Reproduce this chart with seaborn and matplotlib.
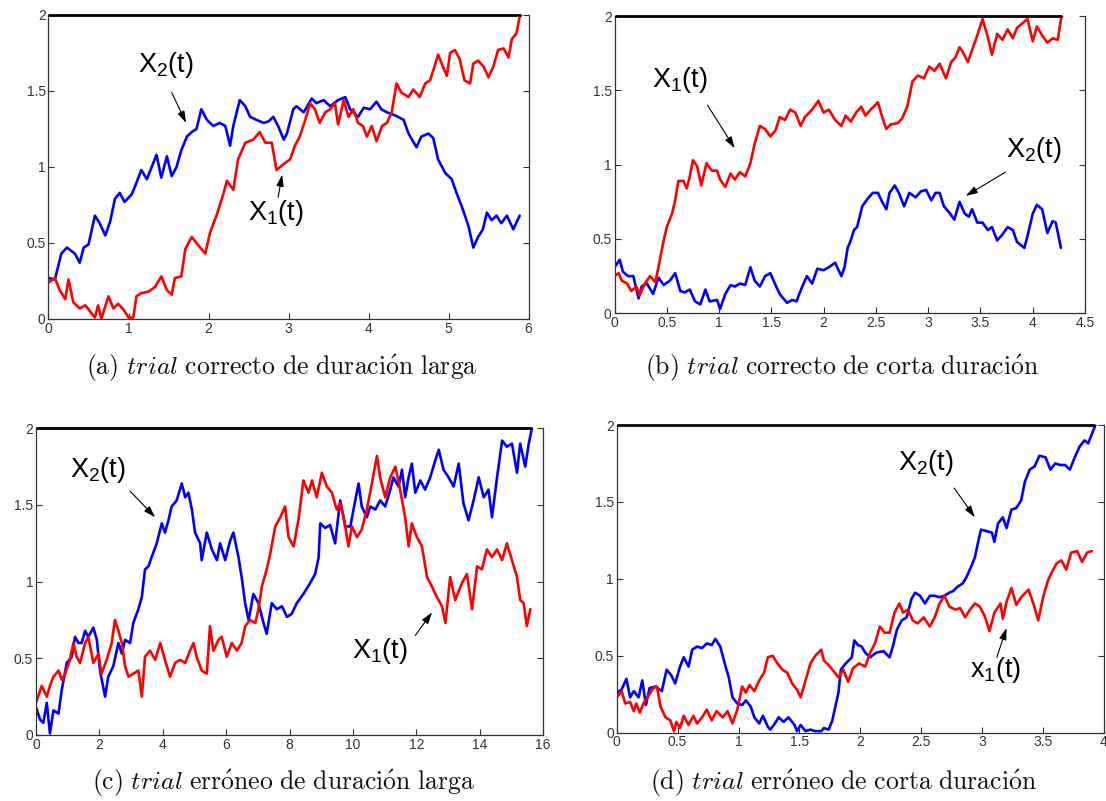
import matplotlib
matplotlib.use("Agg")
import matplotlib.pyplot as plt
import numpy as np
import pandas as pd
import seaborn as sns

# ---------------------------------------------------------------------------
# Decision-variable traces x1(t) (red) and x2(t) (blue) for four trials.
# ---------------------------------------------------------------------------

# (a) correct trial, long duration
a_t1 = [0.0, 0.08, 0.14, 0.21, 0.25, 0.31, 0.39, 0.46, 0.52, 0.58, 0.62, 0.66, 0.75, 0.81, 0.87, 0.94,
        1.0, 1.06, 1.10, 1.16, 1.25, 1.33, 1.41, 1.48, 1.54, 1.58, 1.66, 1.71, 1.79, 1.85, 1.96, 2.02,
        2.10, 2.19, 2.23, 2.31, 2.37, 2.46, 2.56, 2.64, 2.71, 2.79, 2.85, 2.94, 3.02, 3.08, 3.14, 3.21,
        3.27, 3.33, 3.39, 3.46, 3.52, 3.58, 3.62, 3.69, 3.75, 3.81, 3.87, 3.93, 3.98, 4.04, 4.10, 4.17,
        4.23, 4.29, 4.35, 4.41, 4.50, 4.56, 4.64, 4.71, 4.77, 4.83, 4.87, 4.93, 4.98, 5.02, 5.08, 5.14,
        5.20, 5.27, 5.31, 5.37, 5.44, 5.50, 5.56, 5.62, 5.69, 5.75, 5.79, 5.85, 5.89, 5.91]
a_x1 = [0.24, 0.27, 0.19, 0.13, 0.26, 0.11, 0.07, 0.09, 0.05, 0.01, 0.09, 0.0, 0.15, 0.07, 0.10, 0.06,
        0.01, 0.01, 0.15, 0.17, 0.18, 0.21, 0.28, 0.19, 0.16, 0.27, 0.28, 0.46, 0.54, 0.50, 0.43, 0.57,
        0.68, 0.83, 0.91, 0.85, 1.05, 1.16, 1.18, 1.23, 1.16, 1.16, 0.98, 1.02, 1.05, 1.14, 1.20, 1.31,
        1.42, 1.38, 1.29, 1.36, 1.38, 1.42, 1.28, 1.44, 1.33, 1.38, 1.29, 1.27, 1.20, 1.27, 1.17, 1.27,
        1.29, 1.36, 1.55, 1.49, 1.46, 1.51, 1.46, 1.55, 1.57, 1.67, 1.74, 1.66, 1.60, 1.75, 1.77, 1.71,
        1.57, 1.55, 1.68, 1.70, 1.66, 1.59, 1.66, 1.77, 1.78, 1.72, 1.84, 1.88, 1.99, 2.0]
a_t2 = [0.0, 0.08, 0.16, 0.23, 0.33, 0.39, 0.44, 0.50, 0.58, 0.64, 0.71, 0.77, 0.83, 0.89, 0.95, 1.04,
        1.08, 1.16, 1.23, 1.29, 1.35, 1.41, 1.48, 1.54, 1.60, 1.66, 1.73, 1.79, 1.85, 1.91, 1.98, 2.06,
        2.14, 2.21, 2.27, 2.31, 2.39, 2.46, 2.52, 2.60, 2.69, 2.75, 2.81, 2.87, 2.94, 2.98, 3.06, 3.10,
        3.19, 3.29, 3.35, 3.44, 3.52, 3.62, 3.71, 3.77, 3.87, 3.94, 4.02, 4.10, 4.16, 4.23, 4.33, 4.44,
        4.50, 4.60, 4.66, 4.75, 4.81, 4.87, 4.96, 5.04, 5.10, 5.18, 5.25, 5.31, 5.37, 5.43, 5.48, 5.54,
        5.60, 5.66, 5.73, 5.81, 5.89]
a_x2 = [0.27, 0.26, 0.43, 0.47, 0.43, 0.37, 0.47, 0.49, 0.68, 0.63, 0.55, 0.64, 0.79, 0.83, 0.77, 0.82,
        0.87, 0.98, 0.92, 1.0, 1.08, 0.93, 1.07, 0.94, 1.0, 1.11, 1.20, 1.23, 1.25, 1.38, 1.31, 1.27,
        1.29, 1.27, 1.14, 1.27, 1.44, 1.40, 1.33, 1.31, 1.29, 1.30, 1.33, 1.27, 1.18, 1.22, 1.38, 1.40,
        1.36, 1.45, 1.42, 1.44, 1.40, 1.44, 1.46, 1.38, 1.33, 1.39, 1.38, 1.43, 1.38, 1.36, 1.34, 1.31,
        1.22, 1.13, 1.20, 1.22, 1.19, 1.05, 0.96, 0.92, 0.83, 0.72, 0.61, 0.47, 0.54, 0.59, 0.70, 0.65,
        0.68, 0.63, 0.68, 0.59, 0.68]

# (b) correct trial, short duration
b_t1 = [0.0, 0.04, 0.07, 0.12, 0.16, 0.21, 0.24, 0.29, 0.34, 0.39, 0.42, 0.47, 0.50, 0.55, 0.58, 0.61,
        0.66, 0.69, 0.72, 0.75, 0.79, 0.83, 0.88, 0.93, 0.98, 1.01, 1.06, 1.11, 1.15, 1.20, 1.25, 1.30,
        1.34, 1.39, 1.44, 1.49, 1.54, 1.58, 1.63, 1.68, 1.73, 1.78, 1.82, 1.89, 1.95, 2.0, 2.05, 2.11,
        2.17, 2.21, 2.26, 2.31, 2.36, 2.40, 2.45, 2.52, 2.56, 2.60, 2.64, 2.71, 2.75, 2.80, 2.85, 2.90,
        2.96, 3.01, 3.06, 3.11, 3.17, 3.22, 3.26, 3.30, 3.33, 3.38, 3.42, 3.47, 3.52, 3.57, 3.61, 3.66,
        3.71, 3.76, 3.81, 3.85, 3.90, 3.95, 4.0, 4.04, 4.09, 4.14, 4.19, 4.24, 4.27, 4.28]
b_x1 = [0.25, 0.27, 0.22, 0.20, 0.15, 0.18, 0.12, 0.20, 0.25, 0.21, 0.31, 0.49, 0.58, 0.67, 0.76, 0.89,
        0.89, 0.84, 0.92, 1.03, 0.99, 0.86, 1.01, 0.96, 0.96, 0.90, 0.85, 0.94, 0.90, 0.95, 0.92, 1.01,
        1.14, 1.26, 1.24, 1.19, 1.23, 1.32, 1.30, 1.37, 1.35, 1.26, 1.32, 1.37, 1.43, 1.35, 1.37, 1.30,
        1.26, 1.33, 1.29, 1.35, 1.39, 1.33, 1.37, 1.42, 1.32, 1.24, 1.27, 1.28, 1.31, 1.39, 1.56, 1.60,
        1.58, 1.66, 1.63, 1.68, 1.58, 1.69, 1.72, 1.79, 1.76, 1.69, 1.77, 1.87, 1.98, 1.86, 1.74, 1.88,
        1.84, 1.91, 1.85, 1.92, 1.95, 1.98, 1.83, 1.93, 1.87, 1.82, 1.85, 1.84, 1.98, 2.0]
b_t2 = [0.0, 0.05, 0.08, 0.13, 0.18, 0.23, 0.26, 0.31, 0.37, 0.42, 0.47, 0.53, 0.58, 0.63, 0.67, 0.72,
        0.77, 0.82, 0.87, 0.91, 0.98, 1.01, 1.06, 1.11, 1.15, 1.20, 1.25, 1.30, 1.34, 1.39, 1.44, 1.49,
        1.54, 1.58, 1.65, 1.70, 1.74, 1.79, 1.84, 1.89, 1.94, 2.0, 2.05, 2.11, 2.17, 2.20, 2.23, 2.26,
        2.29, 2.32, 2.37, 2.42, 2.47, 2.52, 2.56, 2.60, 2.63, 2.68, 2.72, 2.77, 2.82, 2.88, 2.93, 2.98,
        3.03, 3.07, 3.11, 3.15, 3.20, 3.25, 3.30, 3.35, 3.39, 3.42, 3.47, 3.52, 3.57, 3.61, 3.66, 3.71,
        3.76, 3.81, 3.85, 3.92, 3.95, 4.0, 4.04, 4.09, 4.14, 4.19, 4.22, 4.27]
b_x2 = [0.31, 0.36, 0.28, 0.25, 0.25, 0.10, 0.18, 0.20, 0.13, 0.24, 0.19, 0.22, 0.27, 0.15, 0.14, 0.16,
        0.08, 0.06, 0.16, 0.08, 0.09, 0.03, 0.13, 0.19, 0.18, 0.20, 0.19, 0.31, 0.22, 0.18, 0.25, 0.27,
        0.19, 0.13, 0.07, 0.09, 0.08, 0.17, 0.25, 0.20, 0.30, 0.29, 0.31, 0.34, 0.25, 0.31, 0.44, 0.49,
        0.56, 0.58, 0.72, 0.77, 0.81, 0.81, 0.75, 0.70, 0.81, 0.86, 0.81, 0.72, 0.81, 0.78, 0.82, 0.83,
        0.76, 0.81, 0.81, 0.72, 0.68, 0.63, 0.75, 0.67, 0.65, 0.70, 0.61, 0.61, 0.56, 0.58, 0.49, 0.53,
        0.58, 0.56, 0.48, 0.44, 0.52, 0.67, 0.73, 0.70, 0.54, 0.62, 0.61, 0.44]

# (c) error trial, long duration
c_t1 = [0.0, 0.18, 0.34, 0.44, 0.55, 0.71, 0.81, 0.92, 1.07, 1.18, 1.28, 1.39, 1.55, 1.65, 1.81, 1.97,
        2.07, 2.23, 2.39, 2.49, 2.60, 2.71, 2.81, 2.92, 3.07, 3.23, 3.34, 3.44, 3.60, 3.76, 3.92, 4.07,
        4.23, 4.39, 4.55, 4.71, 4.86, 4.97, 5.07, 5.23, 5.39, 5.49, 5.60, 5.76, 5.86, 6.02, 6.18, 6.34,
        6.49, 6.60, 6.76, 6.92, 7.02, 7.13, 7.28, 7.39, 7.55, 7.71, 7.86, 7.97, 8.13, 8.28, 8.44, 8.60,
        8.71, 8.86, 9.02, 9.18, 9.34, 9.49, 9.60, 9.71, 9.86, 9.97, 10.13, 10.28, 10.44, 10.60, 10.76,
        10.86, 11.02, 11.18, 11.34, 11.49, 11.65, 11.76, 11.86, 12.02, 12.18, 12.34, 12.49, 12.65, 12.81,
        12.92, 13.07, 13.23, 13.44, 13.60, 13.76, 13.92, 14.07, 14.23, 14.39, 14.55, 14.71, 14.86, 15.02,
        15.18, 15.28, 15.39, 15.49, 15.60]
c_x1 = [0.21, 0.32, 0.25, 0.32, 0.38, 0.42, 0.36, 0.40, 0.49, 0.60, 0.51, 0.47, 0.60, 0.64, 0.47, 0.53,
        0.40, 0.49, 0.60, 0.75, 0.68, 0.60, 0.45, 0.38, 0.40, 0.42, 0.25, 0.51, 0.55, 0.49, 0.60, 0.49,
        0.38, 0.47, 0.49, 0.47, 0.55, 0.60, 0.51, 0.42, 0.40, 0.71, 0.55, 0.62, 0.64, 0.51, 0.60, 0.55,
        0.60, 0.71, 0.75, 0.73, 0.82, 0.97, 1.08, 1.18, 1.36, 1.42, 1.49, 1.29, 1.23, 1.40, 1.66, 1.58,
        1.66, 1.55, 1.71, 1.62, 1.58, 1.47, 1.51, 1.42, 1.23, 1.36, 1.29, 1.34, 1.47, 1.64, 1.82,
        1.68, 1.55, 1.68, 1.75, 1.60, 1.42, 1.23, 1.38, 1.29, 1.23, 1.03, 0.97, 0.90, 0.84,
        0.73, 1.03, 0.88, 0.99, 1.05, 0.82, 1.10, 1.08, 1.21, 1.16, 1.21, 1.14, 1.25, 1.14,
        1.03, 0.88, 0.86, 0.71, 0.82]
c_t2 = [0.0, 0.13, 0.23, 0.34, 0.44, 0.55, 0.71, 0.81, 0.97, 1.13, 1.23, 1.34, 1.44, 1.55, 1.65, 1.81,
        1.92, 2.02, 2.18, 2.28, 2.44, 2.60, 2.71, 2.81, 2.97, 3.07, 3.23, 3.34, 3.44, 3.55, 3.65, 3.81,
        3.97, 4.07, 4.18, 4.28, 4.44, 4.60, 4.71, 4.81, 4.92, 5.02, 5.18, 5.23, 5.39, 5.55, 5.71, 5.81,
        5.97, 6.13, 6.23, 6.39, 6.49, 6.60, 6.71, 6.86, 7.02, 7.18, 7.28, 7.44, 7.60, 7.76, 7.92, 8.07,
        8.23, 8.44, 8.65, 8.81, 8.92, 8.97, 9.13, 9.28, 9.44, 9.60, 9.76, 9.92, 10.02, 10.18, 10.28,
        10.44, 10.55, 10.71, 10.86, 11.02, 11.18, 11.28, 11.44, 11.55, 11.65, 11.76, 11.86, 11.97, 12.13,
        12.28, 12.44, 12.60, 12.71, 12.86, 13.02, 13.18, 13.34, 13.49, 13.65, 13.81, 13.97, 14.13, 14.28,
        14.39, 14.55, 14.71, 14.86, 15.02, 15.18, 15.28, 15.44, 15.55, 15.65]
c_x2 = [0.18, 0.10, 0.08, 0.21, 0.01, 0.16, 0.14, 0.29, 0.47, 0.51, 0.64, 0.60, 0.60, 0.68, 0.64, 0.70,
        0.62, 0.42, 0.25, 0.38, 0.45, 0.60, 0.53, 0.62, 0.60, 0.73, 0.82, 0.90, 1.08, 1.10, 1.16, 1.25,
        1.38, 1.32, 1.40, 1.49, 1.53, 1.64, 1.55, 1.58, 1.47, 1.32, 1.25, 1.14, 1.32, 1.21, 1.14, 1.25,
        1.14, 1.27, 1.32, 1.16, 1.03, 0.86, 0.75, 0.92, 0.86, 0.73, 0.66, 0.86, 0.82, 0.84, 0.77, 0.79,
        0.86, 0.92, 0.99, 1.05, 1.16, 1.38, 1.35, 1.37, 1.25, 1.53, 1.36, 1.36, 1.47, 1.64, 1.49,
        1.42, 1.49, 1.47, 1.53, 1.49, 1.60, 1.68, 1.62, 1.73, 1.55, 1.68, 1.77, 1.58, 1.66,
        1.60, 1.68, 1.79, 1.86, 1.73, 1.68, 1.62, 1.77, 1.51, 1.40, 1.53, 1.68, 1.55, 1.60,
        1.42, 1.68, 1.92, 1.88, 1.90, 1.71, 1.90, 1.75, 1.90, 2.0]

# (d) error trial, short duration
d_t1 = [0.0, 0.04, 0.07, 0.11, 0.14, 0.16, 0.19, 0.22, 0.26, 0.30, 0.33, 0.36, 0.40, 0.44, 0.47, 0.49,
        0.52, 0.55, 0.59, 0.63, 0.66, 0.70, 0.74, 0.78, 0.82, 0.87, 0.91, 0.95, 0.99, 1.03, 1.06, 1.09,
        1.13, 1.17, 1.21, 1.24, 1.28, 1.32, 1.36, 1.40, 1.44, 1.48, 1.51, 1.55, 1.59, 1.63, 1.68, 1.70,
        1.74, 1.77, 1.82, 1.86, 1.90, 1.94, 1.99, 2.04, 2.08, 2.12, 2.16, 2.20, 2.24, 2.28, 2.32, 2.35,
        2.39, 2.43, 2.47, 2.52, 2.57, 2.61, 2.65, 2.69, 2.73, 2.78, 2.82, 2.86, 2.90, 2.94, 2.98, 3.02,
        3.06, 3.10, 3.15, 3.17, 3.20, 3.24, 3.28, 3.32, 3.38, 3.42, 3.46, 3.50, 3.54, 3.57, 3.61, 3.65,
        3.69, 3.73, 3.78, 3.82, 3.86, 3.90]
d_x1 = [0.23, 0.27, 0.19, 0.20, 0.14, 0.19, 0.13, 0.19, 0.24, 0.29, 0.30, 0.17, 0.10, 0.08, 0.01, 0.07,
        0.03, 0.11, 0.05, 0.11, 0.06, 0.10, 0.15, 0.08, 0.14, 0.10, 0.14, 0.06, 0.15, 0.30, 0.26, 0.31,
        0.27, 0.34, 0.39, 0.49, 0.50, 0.45, 0.41, 0.39, 0.32, 0.28, 0.23, 0.34, 0.45, 0.50, 0.54, 0.47,
        0.44, 0.41, 0.36, 0.41, 0.33, 0.42, 0.45, 0.43, 0.52, 0.58, 0.69, 0.65, 0.65, 0.78, 0.84, 0.78,
        0.80, 0.73, 0.71, 0.75, 0.69, 0.75, 0.84, 0.89, 0.82, 0.80, 0.81, 0.75, 0.80, 0.84, 0.82, 0.76,
        0.66, 0.78, 0.84, 0.74, 0.85, 0.94, 0.83, 0.88, 0.93, 0.84, 0.73, 0.88, 0.99, 1.04, 1.10, 1.12,
        1.06, 1.17, 1.18, 1.11, 1.17, 1.18]
d_t2 = [0.0, 0.04, 0.08, 0.11, 0.14, 0.18, 0.21, 0.24, 0.27, 0.32, 0.37, 0.41, 0.45, 0.48, 0.52, 0.55,
        0.59, 0.62, 0.66, 0.70, 0.74, 0.78, 0.81, 0.85, 0.89, 0.92, 0.95, 0.99, 1.03, 1.06, 1.10, 1.13,
        1.17, 1.20, 1.24, 1.26, 1.29, 1.33, 1.37, 1.41, 1.46, 1.48, 1.51, 1.55, 1.59, 1.63, 1.68, 1.70,
        1.74, 1.77, 1.82, 1.84, 1.88, 1.93, 1.95, 1.98, 2.01, 2.04, 2.08, 2.13, 2.19, 2.24, 2.27, 2.30,
        2.34, 2.38, 2.42, 2.45, 2.49, 2.53, 2.57, 2.61, 2.65, 2.69, 2.73, 2.76, 2.80, 2.84, 2.87, 2.91,
        2.94, 2.97, 2.99, 3.04, 3.08, 3.10, 3.13, 3.17, 3.20, 3.24, 3.28, 3.32, 3.35, 3.39, 3.43, 3.47,
        3.52, 3.56, 3.60, 3.64, 3.68, 3.72, 3.76, 3.80, 3.84, 3.87, 3.90, 3.93]
d_x2 = [0.26, 0.28, 0.35, 0.23, 0.27, 0.23, 0.34, 0.18, 0.29, 0.30, 0.27, 0.41, 0.37, 0.32, 0.43, 0.49,
        0.43, 0.54, 0.56, 0.55, 0.58, 0.57, 0.61, 0.56, 0.44, 0.36, 0.23, 0.19, 0.18, 0.21, 0.17, 0.10,
        0.06, 0.11, 0.04, 0.02, 0.05, 0.10, 0.07, 0.10, 0.05, 0.01, 0.05, 0.01, 0.02, 0.01, 0.01, 0.03,
        0.02, 0.08, 0.26, 0.41, 0.45, 0.49, 0.60, 0.57, 0.56, 0.52, 0.49, 0.52, 0.53, 0.49, 0.57, 0.67,
        0.73, 0.75, 0.87, 0.91, 0.89, 0.84, 0.89, 0.89, 0.88, 0.89, 0.91, 0.92, 0.95, 0.97, 1.01, 1.08,
        1.14, 1.25, 1.32, 1.31, 1.30, 1.24, 1.36, 1.40, 1.33, 1.45, 1.46, 1.51, 1.63, 1.71, 1.73, 1.80,
        1.79, 1.71, 1.75, 1.74, 1.74, 1.71, 1.79, 1.86, 1.90, 1.88, 1.94, 2.0]

captions = [
    r"$\mathrm{(a)}\ \mathit{trial}\ \mathrm{correcto\ de\ duraci\acute{o}n\ larga}$",
    r"$\mathrm{(b)}\ \mathit{trial}\ \mathrm{correcto\ de\ corta\ duraci\acute{o}n}$",
    r"$\mathrm{(c)}\ \mathit{trial}\ \mathrm{err\acute{o}neo\ de\ duraci\acute{o}n\ larga}$",
    r"$\mathrm{(d)}\ \mathit{trial}\ \mathrm{err\acute{o}neo\ de\ corta\ duraci\acute{o}n}$",
]
x_limits = [6, 4.5, 16, 4]
x_steps = [1, 0.5, 2, 0.5]
threshold = 2.0

# ---------------------------------------------------------------------------
sns.set_style("ticks")
plt.rcParams["font.family"] = ["Liberation Sans", "DejaVu Sans"]
plt.rcParams["mathtext.fontset"] = "custom"
plt.rcParams["mathtext.rm"] = "Liberation Sans"
plt.rcParams["mathtext.it"] = "Liberation Sans:italic"

RED = "#ff0000"
BLUE = "#0000ff"
palette = {"x1": RED, "x2": BLUE}

fig = plt.figure(figsize=(11.06, 8.01), dpi=100)
fig.patch.set_facecolor("white")

rects = [
    [48.5 / 1106, 1 - 319 / 801, 480 / 1106, 304 / 801],
    [614.5 / 1106, 1 - 313.3 / 801, 470.5 / 1106, 297.3 / 801],
    [36 / 1106, 1 - 735 / 801, 507 / 1106, 306.7 / 801],
    [616.7 / 1106, 1 - 732.7 / 801, 487.3 / 1106, 307.7 / 801],
]
caption_pos = [(282 / 1106, 1 - 368 / 801), (842 / 1106, 1 - 368 / 801),
               (283 / 1106, 1 - 783 / 801), (843 / 1106, 1 - 783 / 801)]

series = [
    (a_t1, a_x1, a_t2, a_x2),
    (b_t1, b_x1, b_t2, b_x2),
    (c_t1, c_x1, c_t2, c_x2),
    (d_t1, d_x1, d_t2, d_x2),
]

# label text, text anchor (data), arrow tail, arrow head
labels = [
    [(r"X$_\mathrm{2}$(t)", (1.12, 1.67), (1.54, 1.49), (1.72, 1.29)),
     (r"X$_\mathrm{1}$(t)", (2.50, 0.70), (2.87, 0.80), (2.92, 0.95))],
    [(r"X$_\mathrm{1}$(t)", (0.36, 1.57), (0.89, 1.40), (1.15, 1.11)),
     (r"X$_\mathrm{2}$(t)", (3.74, 1.10), (3.74, 0.95), (3.36, 0.79))],
    [(r"X$_\mathrm{2}$(t)", (1.07, 1.73), (2.97, 1.59), (3.76, 1.42)),
     (r"X$_\mathrm{1}$(t)", (9.98, 0.55), (11.97, 0.65), (12.50, 0.80))],
    [(r"X$_\mathrm{2}$(t)", (2.31, 1.75), (2.77, 1.59), (2.94, 1.40)),
     (r"x$_\mathrm{1}$(t)", (2.90, 0.41), (3.12, 0.49), (3.20, 0.68))],
]

for i in range(4):
    ax = fig.add_axes(rects[i])
    t1, x1, t2, x2 = series[i]
    df = pd.concat([
        pd.DataFrame({"t": t2, "v": x2, "trace": "x2"}),
        pd.DataFrame({"t": t1, "v": x1, "trace": "x1"}),
    ], ignore_index=True)
    sns.lineplot(data=df, x="t", y="v", hue="trace", hue_order=["x2", "x1"],
                 palette=palette, estimator=None, sort=False, legend=False,
                 linewidth=1.9, ax=ax)

    # decision threshold up to the end of the trial
    t_end = max(t1[-1], t2[-1])
    ax.plot([0, t_end], [threshold, threshold], color="black", lw=2.0,
            clip_on=False, solid_capstyle="butt", zorder=5)

    ax.set_xlim(0, x_limits[i])
    ax.set_ylim(0, 2)
    xt = np.arange(0, x_limits[i] + 1e-9, x_steps[i])
    ax.set_xticks(xt)
    ax.set_xticklabels([f"{v:g}" for v in xt])
    ax.set_yticks([0, 0.5, 1, 1.5, 2])
    ax.set_yticklabels(["0", "0.5", "1", "1.5", "2"])
    ax.set_xlabel("")
    ax.set_ylabel("")
    ax.tick_params(direction="in", length=4, width=0.8, right=True, top=False,
                   labelsize=10, labelcolor="#333333", color="#333333", pad=2)
    for side in ["left", "bottom", "right"]:
        ax.spines[side].set_linewidth(0.9)
        ax.spines[side].set_color("#333333")
    ax.spines["top"].set_visible(False)
    ax.set_facecolor("white")

    for text, pos, tail, head in labels[i]:
        ax.text(pos[0], pos[1], text, fontsize=19.5, ha="left", va="center",
                color="black")
        ax.annotate("", xy=head, xytext=tail,
                    arrowprops=dict(arrowstyle="-|>,head_length=0.7,head_width=0.22",
                                    color="black", lw=0.8, shrinkA=0, shrinkB=0))

    fig.text(caption_pos[i][0], caption_pos[i][1], captions[i], fontsize=18.5,
             ha="center", va="center", math_fontfamily="cm", color="#111111")

fig.savefig("out.png", dpi=100, facecolor="white")
